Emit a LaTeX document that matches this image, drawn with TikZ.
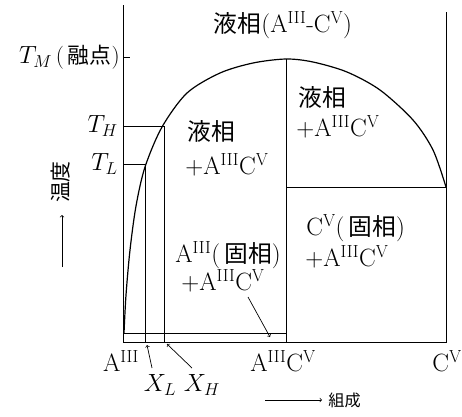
\documentclass[tikz,border=0pt]{standalone}
\usepackage{fontspec}
\newfontfamily\jp[Scale=0.95]{Noto Sans CJK JP}
\newcommand{\Aiii}{A\textsuperscript{III}}
\newcommand{\Cv}{C\textsuperscript{V}}
\tikzset{
  lbl/.style={font=\fontsize{25}{28}\selectfont, inner sep=0pt},
  tlbl/.style={font=\fontsize{23}{26}\selectfont, inner sep=0pt},
  axlbl/.style={font=\fontsize{25}{28}\selectfont, inner sep=0pt},
  caplbl/.style={font=\fontsize{17}{20}\selectfont, inner sep=0pt},
}
\begin{document}
\begin{tikzpicture}[x=1pt, y=-1pt, line width=0.7pt]
    \useasboundingbox (0,0) rectangle (462,416);
    % frame of the diagram (pixel coordinates, y downwards)
    \coordinate (O) at (123,342);
    \coordinate (Otop) at (123,5);
    \coordinate (R) at (446,342);
    \coordinate (Rtop) at (446,12);
    \coordinate (M) at (286,342);
    \coordinate (Mtop) at (286,59);

    \draw (Otop) -- (O) -- (R) -- (Rtop);
    \draw (Mtop) -- (M);
    % thin solid solution strip and eutectic line
    \draw (123,333) -- (286,333);
    \draw (286,187) -- (446,187);

    % liquidus curve
    \draw[line width=1.2pt] plot[smooth, tension=0.5] coordinates {(124,333) (126,295) (130,250) (136,206) (145,167) (162,127) (187,93) (220,73) (253,63) (286,59) (313,62) (347,72) (380,90) (413,120) (433,150) (446,187)};

    % T_M tick, T_H and T_L lines
    \coordinate (TM) at (123,57);
    \coordinate (TH) at (123,126);
    \coordinate (TL) at (123,164);
    \coordinate (XH) at (164,342);
    \coordinate (XL) at (145,342);
    \draw (TM) -- (130,57);
    \draw (TH) -- (164,126) -- (XH);
    \draw (TL) -- (145,164) -- (XL);

    % Labels
    \node[lbl] (title) at (283,25) {{\jp 液相}(\Aiii-\Cv)};
    \node[tlbl, anchor=east] (tmlbl) at (120,57) {$T_M$\,(\,{\jp 融点})};
    \node[tlbl, anchor=east] (thlbl) at (118,126) {$T_H$};
    \node[tlbl, anchor=east] (tllbl) at (118,164) {$T_L$};

    \node[lbl, anchor=west] (liqA) at (187,131) {\jp 液相};
    \node[lbl, anchor=west] (liqAb) at (185,165) {$+$\Aiii\Cv};
    \node[lbl, anchor=west] (liqB) at (298,97) {\jp 液相};
    \node[lbl, anchor=west] (liqBb) at (296,127) {$+$\Aiii\Cv};
    \node[lbl] (solA) at (228,255) {\Aiii(\,{\jp 固相})};
    \node[lbl] (solAb) at (223,281) {$+$\Aiii\Cv};
    \node[lbl, anchor=west] (solC) at (306,228) {\Cv(\,{\jp 固相})};
    \node[lbl, anchor=west] (solCb) at (305,257) {$+$\Aiii\Cv};

    \node[axlbl] (aiii) at (121,361) {\Aiii};
    \node[axlbl] (aiiicv) at (283,361) {\Aiii\Cv};
    \node[axlbl, anchor=east] (cv) at (462,361) {\Cv};
    \node[axlbl] (xl) at (160,385) {$X_L$};
    \node[axlbl] (xh) at (202,385) {$X_H$};

    % pointers
    \coordinate (xlfoot) at (152,368);
    \coordinate (xltip) at (147,345);
    \coordinate (xhfoot) at (192,368);
    \coordinate (xhtip) at (167,344);
    \coordinate (stripfoot) at (248,297);
    \coordinate (striptip) at (270,337);
    \draw[->] (xlfoot) -- (xltip);
    \draw[->] (xhfoot) -- (xhtip);
    \draw[->] (stripfoot) -- (striptip);

    % axis captions
    \coordinate (compA) at (265,400);
    \coordinate (compB) at (322,400);
    \draw[->] (compA) -- (compB);
    \node[caplbl, anchor=west] (comp) at (328,400) {\jp 組成};
    \coordinate (tempA) at (62,267);
    \coordinate (tempB) at (62,215);
    \draw[->] (tempA) -- (tempB);
    \node[caplbl, rotate=90, font=\fontsize{22}{24}\selectfont] (temp) at (61,182) {\jp 温度};
\end{tikzpicture}
\end{document}
